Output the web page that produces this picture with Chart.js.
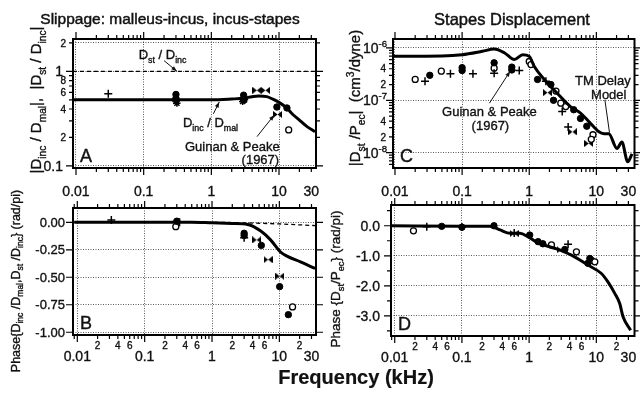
<!DOCTYPE html>
<html>
<head>
<meta charset="utf-8">
<script src="https://cdn.jsdelivr.net/npm/chart.js@4/dist/chart.umd.min.js"></script>
<style>
  body { margin: 0; background: #fff; }
  #wrap { position: relative; width: 640px; height: 394px; overflow: hidden; }
  canvas { position: absolute; left: 0; top: 0; }
</style>
</head>
<body>
<div id="wrap">
  <canvas id="cA" width="640" height="394"></canvas>
  <canvas id="cB" width="640" height="394"></canvas>
  <canvas id="cC" width="640" height="394"></canvas>
  <canvas id="cD" width="640" height="394"></canvas>
</div>
<script>
// ---- Daten (Frequenz in kHz) ----
// A: Betrag D_inc/D_mal (Modell) und D_st/D_inc (gestrichelt)
let aModelF = [0.009, 0.1, 1, 2, 3, 4, 5, 6.6, 8, 10, 13, 16, 20.6, 26, 34];
let aModelV = [0.5, 0.5, 0.5, 0.51, 0.52, 0.54, 0.55, 0.54, 0.51, 0.47, 0.41, 0.35, 0.30, 0.26, 0.23];
let aRatioF = [0.009, 1, 10, 34];
let aRatioV = [1, 1, 1, 1];
let aPlus = [[0.03, 0.58]];
let aStar = [[0.3, 0.48], [0.31, 0.46], [2.9, 0.48], [3.1, 0.5]];
let aFilled = [[0.3, 0.57], [0.3, 0.52], [3, 0.56], [3, 0.5], [9.3, 0.42], [13.1, 0.41]];
let aOpen = [[13.9, 0.24]];
let aBow = [[4.7, 0.63], [6.3, 0.63], [9.5, 0.35]];

// B: Phase D_inc/D_mal (Modell) und D_st/D_inc (gestrichelt)
let bModelF = [0.009, 0.5, 1, 2, 3.4, 5.3, 7.4, 10.4, 13.2, 20.6, 34];
let bModelV = [0, 0, -0.005, -0.01, -0.02, -0.08, -0.16, -0.27, -0.31, -0.36, -0.42];
let bRatioF = [0.009, 1, 3, 10, 34];
let bRatioV = [0, 0, -0.005, -0.015, -0.03];
let bPlus = [[0.032, 0.02], [0.33, 0.0], [3.0, -0.14]];
let bFilled = [[0.3, 0.01], [3.0, -0.1], [3.0, -0.12], [5.4, -0.21], [10.1, -0.585], [13.6, -0.84]];
let bOpen = [[0.29, -0.04], [15.7, -0.77]];
let bBow = [[4.6, -0.16], [6.8, -0.34], [10.1, -0.49]];

// C: |D_st/P_ec| in cm^3/dyne
let cModelF = [0.009, 0.05, 0.1, 0.2, 0.3, 0.43, 0.6, 0.8, 1.0, 1.19, 1.67, 2.6, 4.1, 5.8, 9.2, 10.9, 13, 15.3, 20.3, 24, 29.3, 34];
let cModelV = [6.9e-7, 7.0e-7, 7.4e-7, 8.6e-7, 9.5e-7, 8e-7, 6e-7, 7.4e-7, 6.9e-7, 4.4e-7, 2.5e-7, 1.37e-7, 7.6e-8, 5.7e-8, 3.1e-8, 2.5e-8, 2.3e-8, 2.3e-8, 1.2e-8, 1.6e-8, 6.7e-9, 9.5e-9];
let cPlus = [[0.028, 2.3e-7], [0.067, 3.2e-7], [0.145, 3.2e-7], [0.3, 3.3e-7], [0.71, 3.7e-7], [1.77, 2.3e-7], [3.1, 6.1e-8], [3.8, 3.1e-8]];
let cFilled = [[0.033, 3e-7], [0.1, 3.7e-7], [0.1, 4.2e-7], [0.3, 5.2e-7], [0.55, 3.8e-7], [0.55, 4.3e-7], [1.33, 2.5e-7], [2.1, 2e-7], [2.3, 1.0e-7], [4.6, 6.6e-8], [5.8, 4.5e-8], [7.2, 3.2e-8]];
let cOpen = [[0.02, 2.5e-7], [0.049, 3.6e-7], [0.3, 4.1e-7], [1.0, 5.5e-7], [1.06, 4.8e-7], [2.5, 1.5e-7], [2.95, 8.8e-8], [3.5, 7.6e-8], [8.9, 2.2e-8], [8.4, 1.8e-8]];
let cBow = [[1.87, 1.4e-7], [4.4, 2.5e-8], [7.7, 1.5e-8]];

// D: Phase D_st/P_ec in rad/pi
let dModelF = [0.009, 0.1, 0.26, 0.37, 0.52, 0.73, 0.97, 1.36, 2.4, 4.27, 7.5, 11.9, 14.9, 18.8, 22.3, 25, 32.4];
let dModelV = [0, -0.02, -0.02, -0.14, -0.25, -0.25, -0.37, -0.57, -0.75, -0.98, -1.31, -1.59, -1.87, -2.25, -2.59, -3.03, -3.48];
let dPlus = [[0.03, -0.03], [0.1, -0.04], [0.6, -0.24], [3.8, -0.62]];
let dFilled = [[0.05, -0.02], [0.1, -0.05], [0.3, 0.0], [1.02, -0.31], [1.36, -0.53], [1.6, -0.6], [3.4, -0.79], [7.5, -1.25], [8, -1.09]];
let dOpen = [[0.019, -0.17], [2.15, -0.64], [5.06, -0.87], [8.5, -1.15], [9.5, -1.2]];
let dBow = [[0.6, -0.26], [3.0, -0.8]];

// Achsenbeschriftungen
let freqLabels = [[0.01, '0.01'], [0.1, '0.1'], [1, '1'], [10, '10'], [30, '30']];
let freqMinorLabels = [[0.02, '2'], [0.04, '4'], [0.06, '6'], [0.2, '2'], [0.4, '4'], [0.6, '6'], [2, '2'], [4, '4'], [6, '6'], [20, '2']];
let aYLabels = [[2, '2'], [1, '1'], [0.8, '8'], [0.6, '6'], [0.4, '4'], [0.2, '2'], [0.1, '0.1']];
let bYLabels = [[0, '0.00'], [-0.25, '-0.25'], [-0.5, '-0.50'], [-0.75, '-0.75'], [-1, '-1.00']];
let cYLabels = [[1e-6, '-6'], [4e-7, '4'], [2e-7, '2'], [1e-7, '-7'], [4e-8, '4'], [2e-8, '2'], [1e-8, '-8']];
let dYLabels = [[0, '0.0'], [-1, '-1.0'], [-2, '-2.0'], [-3, '-3.0']];

const FONT = '"Liberation Sans", Arial, Helvetica, sans-serif';
const INK = '#111';

// Schleifen-Symbol (Guinan & Peake)
let bow = document.createElement('canvas');
bow.width = 9; bow.height = 7;
let bc = bow.getContext('2d');
bc.fillStyle = '#000';
bc.beginPath();
bc.moveTo(0, 0); bc.lineTo(4.5, 3.5); bc.lineTo(0, 7); bc.closePath();
bc.moveTo(9, 0); bc.lineTo(4.5, 3.5); bc.lineTo(9, 7); bc.closePath();
bc.fill();

let pts = (fs, vs) => fs.map((f, i) => ({ x: f, y: vs[i] }));
let pairs = arr => arr.map(([x, y]) => ({ x, y }));

// etwas kräftigere Schrift wie im Original
function ink(ctx, t, x, y) {
  ctx.fillText(t, x, y);
  ctx.strokeText(t, x, y);
}

// Text mit Tief-/Hochstellung: parts = [[text, 0|1(sub)|2(sup)], ...]
function rich(ctx, parts, size, x, y, align) {
  let small = size * 0.68, w = 0;
  let widths = parts.map(([t, m]) => {
    ctx.font = `${m ? small : size}px ${FONT}`;
    let ww = ctx.measureText(t).width;
    w += ww;
    return ww;
  });
  let cx = align === 'right' ? x - w : align === 'left' ? x : x - w / 2;
  ctx.textAlign = 'left';
  ctx.textBaseline = 'alphabetic';
  ctx.lineWidth = 0.35;
  ctx.strokeStyle = INK;
  parts.forEach(([t, m], i) => {
    ctx.font = `${m ? small : size}px ${FONT}`;
    let dy = m === 1 ? size * 0.3 : m === 2 ? -size * 0.42 : 0;
    ink(ctx, t, cx, y + size * 0.36 + dy);
    cx += widths[i];
  });
}

function logTicks(min, max) {
  let out = [];
  for (let e = -9; e <= 2; e++) {
    for (let k = 1; k <= 9; k++) {
      let v = k * Math.pow(10, e);
      if (v >= min && v <= max) out.push([v, k === 1]);
    }
  }
  return out;
}

function arrow(ctx, x1, y1, x2, y2, head) {
  ctx.beginPath();
  ctx.moveTo(x1, y1);
  ctx.lineTo(x2, y2);
  ctx.stroke();
  if (!head) return;
  let a = Math.atan2(y2 - y1, x2 - x1);
  ctx.beginPath();
  ctx.moveTo(x2, y2);
  ctx.lineTo(x2 - 6 * Math.cos(a - 0.35), y2 - 6 * Math.sin(a - 0.35));
  ctx.lineTo(x2 - 6 * Math.cos(a + 0.35), y2 - 6 * Math.sin(a + 0.35));
  ctx.closePath();
  ctx.fill();
}

// Rahmen, Striche, Beschriftungen und Hinweise
function deco(p) {
  return {
    id: 'deco',
    afterDraw(chart) {
      let ctx = chart.ctx, a = chart.chartArea, sx = chart.scales.x, sy = chart.scales.y;
      ctx.save();
      ctx.strokeStyle = '#000';
      ctx.fillStyle = INK;
      ctx.lineWidth = 2;
      ctx.strokeRect(a.left, a.top, a.right - a.left, a.bottom - a.top);

      ctx.lineWidth = 1.2;
      ctx.beginPath();
      logTicks(sx.min, sx.max).forEach(([v, major]) => {
        let x = sx.getPixelForValue(v), l = major ? 7 : 4;
        ctx.moveTo(x, a.bottom); ctx.lineTo(x, a.bottom + l);
        ctx.moveTo(x, a.top); ctx.lineTo(x, a.top - l);
      });
      p.yTicks.forEach(([v, major]) => {
        let y = sy.getPixelForValue(v), l = major ? 7 : 4;
        ctx.moveTo(a.left, y); ctx.lineTo(a.left - l, y);
        ctx.moveTo(a.right, y); ctx.lineTo(a.right + l, y);
      });
      ctx.stroke();

      // Frequenz-Beschriftung
      freqLabels.forEach(([v, t]) => rich(ctx, [[t, 0]], 14, sx.getPixelForValue(v), a.bottom + p.xLabelDy, 'center'));
      if (p.minorX) {
        freqMinorLabels.forEach(([v, t]) => rich(ctx, [[t, 0]], 10, sx.getPixelForValue(v), a.bottom + 10, 'center'));
      }
      // y-Beschriftung
      p.yLabels.forEach(([v, t]) => {
        let y = sy.getPixelForValue(v);
        if (p.sup && t[0] === '-') rich(ctx, [['10', 0], [t, 2]], 14, a.left - 6, y, 'right');
        else if (t.length === 1 && t !== '1') rich(ctx, [[t, 0]], 10, a.left - 7, y, 'right');
        else rich(ctx, [[t, 0]], p.yFont, a.left - p.yLabelDx, y, 'right');
      });

      // Achsentitel (gedreht)
      ctx.save();
      ctx.translate(p.yTitle.x, p.yTitle.y);
      ctx.rotate(-Math.PI / 2);
      rich(ctx, p.yTitle.parts, p.yTitle.size, 0, 0, 'center');
      ctx.restore();

      // Buchstabe des Feldes
      ctx.font = `18px ${FONT}`;
      ctx.textAlign = 'left';
      ctx.textBaseline = 'alphabetic';
      ctx.lineWidth = 0.4;
      ink(ctx, p.letter, a.left + 7, a.bottom - 6);

      // Hinweise und Pfeile
      (p.notes || []).forEach(n => rich(ctx, n.parts, n.size, sx.getPixelForValue(n.at[0]), sy.getPixelForValue(n.at[1]), 'center'));
      ctx.lineWidth = 1;
      (p.arrows || []).forEach(r => arrow(ctx,
        sx.getPixelForValue(r.from[0]), sy.getPixelForValue(r.from[1]),
        sx.getPixelForValue(r.to[0]), sy.getPixelForValue(r.to[1]), r.head));

      // freie Texte (Titel)
      (p.texts || []).forEach(t => {
        ctx.font = `${t.bold ? 'bold ' : ''}${t.size}px ${FONT}`;
        ctx.textAlign = 'center';
        ctx.textBaseline = 'middle';
        ctx.lineWidth = t.bold ? 0.2 : 0.45;
        ink(ctx, t.text, t.x, t.y);
      });
      ctx.restore();
    }
  };
}

function markers(plus, filled, open, bw, star) {
  let ds = [
    { data: pairs(plus), pointStyle: 'cross', pointRadius: 4, borderWidth: 1.5, borderColor: '#000' },
    { data: pairs(filled), pointStyle: 'circle', pointRadius: 3.2, backgroundColor: '#000', borderColor: '#000', borderWidth: 1 },
    { data: pairs(open), pointStyle: 'circle', pointRadius: 3, backgroundColor: '#fff', borderColor: '#000', borderWidth: 1.3 },
    { data: pairs(bw), pointStyle: bow, pointRadius: 4 }
  ];
  if (star) ds.push({ data: pairs(star), pointStyle: 'star', pointRadius: 3.6, borderWidth: 1.5, borderColor: '#000' });
  return ds;
}

function curve(fs, vs, dashed) {
  return {
    data: pts(fs, vs), showLine: true, pointRadius: 0, borderColor: '#000',
    borderWidth: dashed ? 1.3 : 3, borderDash: dashed ? [4, 3] : [],
    cubicInterpolationMode: 'monotone'
  };
}

function makePanel(id, p, datasets) {
  let grid = {
    color: 'rgba(0,0,0,0.65)', lineWidth: 1, drawTicks: false
  };
  return new Chart(document.getElementById(id), {
    type: 'scatter',
    data: { datasets },
    options: {
      responsive: false,
      animation: false,
      events: [],
      layout: { padding: { left: p.box[0], top: p.box[1], right: 640 - p.box[2], bottom: 394 - p.box[3] } },
      plugins: { legend: { display: false }, tooltip: { enabled: false } },
      scales: {
        x: {
          type: 'logarithmic', min: p.xRange[0], max: p.xRange[1],
          afterBuildTicks: s => { s.ticks = [0.01, 0.1, 1, 10].map(v => ({ value: v })); },
          afterFit: s => { s.height = 0; },
          ticks: { display: false }, grid, border: { display: false, dash: [1, 1.5] }
        },
        y: {
          type: p.yType, min: p.yRange[0], max: p.yRange[1],
          afterBuildTicks: s => { s.ticks = p.yGrid.map(v => ({ value: v })); },
          afterFit: s => { s.width = 0; },
          ticks: { display: false }, grid, border: { display: false, dash: [1, 1.5] }
        }
      }
    },
    plugins: [deco(p)]
  });
}

makePanel('cA', {
  box: [73, 39, 316, 168], xRange: [0.00903, 35.2], yType: 'logarithmic', yRange: [0.095, 2.2],
  yGrid: [0.1, 1, 2], yTicks: logTicks(0.095, 2.2), yLabels: aYLabels, yFont: 14, yLabelDx: 10,
  xLabelDy: 23, letter: 'A',
  yTitle: { x: 36, y: 100, size: 15, parts: [['|D', 0], ['inc', 1], [' / D', 0], ['mal', 1], ['|,  |D', 0], ['st', 1], [' / D', 0], ['inc', 1], ['|', 0]] },
  notes: [
    { parts: [['D', 0], ['st', 1], [' / D', 0], ['inc', 1]], size: 13, at: [0.19, 1.5] },
    { parts: [['D', 0], ['inc', 1], [' / D', 0], ['mal', 1]], size: 13, at: [0.97, 0.29] },
    { parts: [['Guinan & Peake', 0]], size: 13, at: [2.04, 0.16] },
    { parts: [['(1967)', 0]], size: 13, at: [5.3, 0.117] }
  ],
  arrows: [
    { from: [0.2, 1.3], to: [0.31, 1.0], head: true },
    { from: [1.07, 0.355], to: [1.31, 0.475], head: true },
    { from: [4.73, 0.204], to: [8.5, 0.346], head: true }
  ],
  texts: [{ text: 'Slippage: malleus-incus, incus-stapes', x: 170, y: 20, size: 15.5 }]
}, [curve(aModelF, aModelV), curve(aRatioF, aRatioV, true), ...markers(aPlus, aFilled, aOpen, aBow, aStar)]);

makePanel('cB', {
  box: [73, 208, 316, 335], xRange: [0.00863, 35], yType: 'linear', yRange: [-1.025, 0.13],
  yGrid: [0, -0.25, -0.5, -0.75, -1], yTicks: [0, -0.25, -0.5, -0.75, -1].map(v => [v, true]),
  yLabels: bYLabels, yFont: 13, yLabelDx: 8, xLabelDy: 21, minorX: true, letter: 'B',
  yTitle: { x: 15, y: 281, size: 12.5, parts: [['Phase{D', 0], ['inc', 1], [' /D', 0], ['mal', 1], [',D', 0], ['st', 1], [' /D', 0], ['inc', 1], ['} (rad/pi)', 0]] }
}, [curve(bModelF, bModelV), curve(bRatioF, bRatioV, true), ...markers(bPlus, bFilled, bOpen, bBow)]);

makePanel('cC', {
  box: [393, 39, 636, 168], xRange: [0.00934, 37], yType: 'logarithmic', yRange: [5.1e-9, 1.48e-6],
  yGrid: [1e-8, 1e-7, 1e-6], yTicks: logTicks(5.1e-9, 1.48e-6), yLabels: cYLabels, sup: true, yFont: 14, yLabelDx: 6,
  xLabelDy: 23, letter: 'C',
  yTitle: { x: 355, y: 98, size: 15, parts: [['|D', 0], ['st', 1], [' /P', 0], ['ec', 1], ['|  (cm', 0], ['3', 2], ['/dyne)', 0]] },
  notes: [
    { parts: [['Guinan & Peake', 0]], size: 13, at: [0.255, 6.1e-8] },
    { parts: [['(1967)', 0]], size: 13, at: [0.264, 3.4e-8] },
    { parts: [['TM Delay', 0]], size: 13, at: [12.5, 2.4e-7] },
    { parts: [['Model', 0]], size: 13, at: [15.3, 1.3e-7] }
  ],
  arrows: [
    { from: [0.255, 8.8e-8], to: [0.52, 3.6e-7], head: true },
    { from: [13.4, 1.02e-7], to: [15.7, 2.4e-8], head: false }
  ],
  texts: [{ text: 'Stapes Displacement', x: 512, y: 20, size: 16.5 }]
}, [curve(cModelF, cModelV), ...markers(cPlus, cFilled, cOpen, cBow)]);

makePanel('cD', {
  box: [391, 205, 635, 336], xRange: [0.0088, 37], yType: 'linear', yRange: [-3.67, 0.69],
  yGrid: [0, -1, -2, -3], yTicks: [[0.5, false], [0, true], [-0.5, false], [-1, true], [-1.5, false], [-2, true], [-2.5, false], [-3, true], [-3.5, false]],
  yLabels: dYLabels, yFont: 14, yLabelDx: 11, xLabelDy: 21, minorX: true, letter: 'D',
  yTitle: { x: 335, y: 279, size: 13.5, parts: [['Phase {D', 0], ['st', 1], ['/P', 0], ['ec', 1], ['} (rad/pi)', 0]] },
  texts: [{ text: 'Frequency (kHz)', x: 356, y: 378, size: 20, bold: true }]
}, [curve(dModelF, dModelV), ...markers(dPlus, dFilled, dOpen, dBow)]);
</script>
</body>
</html>
